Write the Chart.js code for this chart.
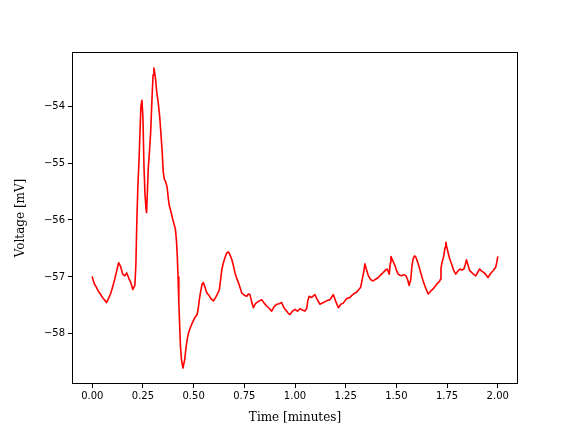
<!DOCTYPE html>
<html><head><meta charset="utf-8">
<script src="https://cdn.jsdelivr.net/npm/chart.js@4/dist/chart.umd.min.js"></script>
<style>html,body{margin:0;padding:0;background:#fff;}canvas{display:block;}</style>
</head><body>
<canvas id="c" width="576" height="432"></canvas>
<script>
const timeMinutes = [0.000,0.010,0.020,0.030,0.040,0.050,0.060,0.070,0.080,0.090,0.100,0.110,0.120,0.130,0.140,0.150,0.160,0.170,0.180,0.190,0.200,0.210,0.215,0.220,0.225,0.230,0.235,0.240,0.245,0.250,0.255,0.260,0.265,0.268,0.272,0.276,0.282,0.288,0.292,0.296,0.300,0.304,0.308,0.312,0.318,0.325,0.332,0.338,0.345,0.350,0.355,0.362,0.369,0.375,0.380,0.388,0.397,0.404,0.410,0.415,0.419,0.423,0.427,0.431,0.435,0.440,0.447,0.452,0.456,0.462,0.468,0.475,0.485,0.493,0.505,0.517,0.523,0.528,0.535,0.542,0.548,0.556,0.565,0.575,0.585,0.598,0.610,0.620,0.627,0.633,0.639,0.647,0.655,0.663,0.672,0.680,0.688,0.696,0.704,0.712,0.721,0.730,0.737,0.750,0.762,0.770,0.778,0.787,0.795,0.803,0.811,0.824,0.836,0.848,0.860,0.872,0.885,0.897,0.910,0.922,0.934,0.947,0.959,0.967,0.975,0.988,1.000,1.012,1.025,1.037,1.049,1.058,1.063,1.070,1.082,1.098,1.110,1.123,1.140,1.156,1.172,1.189,1.200,1.214,1.226,1.238,1.255,1.271,1.288,1.304,1.315,1.324,1.331,1.337,1.345,1.353,1.362,1.374,1.386,1.398,1.411,1.424,1.436,1.446,1.455,1.465,1.470,1.473,1.483,1.493,1.500,1.509,1.518,1.526,1.537,1.547,1.556,1.563,1.571,1.577,1.583,1.590,1.596,1.605,1.613,1.622,1.632,1.645,1.657,1.669,1.681,1.694,1.706,1.713,1.717,1.720,1.725,1.734,1.740,1.744,1.749,1.755,1.763,1.772,1.782,1.793,1.803,1.813,1.823,1.833,1.840,1.846,1.854,1.862,1.877,1.892,1.901,1.911,1.921,1.931,1.942,1.952,1.965,1.977,1.990,1.995,2.000];
const voltageMv = [-57.00,-57.12,-57.18,-57.25,-57.30,-57.36,-57.40,-57.45,-57.38,-57.30,-57.18,-57.05,-56.90,-56.75,-56.82,-56.95,-56.98,-56.93,-57.02,-57.10,-57.22,-57.15,-56.80,-56.00,-55.40,-55.00,-54.50,-54.00,-53.90,-54.20,-55.05,-55.55,-55.80,-55.87,-55.50,-55.10,-54.80,-54.46,-54.10,-53.75,-53.45,-53.33,-53.42,-53.52,-53.75,-53.93,-54.16,-54.45,-54.81,-55.15,-55.28,-55.33,-55.42,-55.62,-55.75,-55.85,-55.99,-56.08,-56.16,-56.35,-56.60,-57.00,-57.45,-57.85,-58.22,-58.45,-58.60,-58.52,-58.45,-58.25,-58.10,-57.98,-57.88,-57.81,-57.72,-57.66,-57.55,-57.40,-57.25,-57.12,-57.10,-57.18,-57.28,-57.32,-57.38,-57.42,-57.35,-57.28,-57.22,-57.05,-56.87,-56.75,-56.66,-56.58,-56.56,-56.62,-56.69,-56.80,-56.93,-57.02,-57.10,-57.20,-57.28,-57.32,-57.34,-57.30,-57.31,-57.45,-57.54,-57.48,-57.45,-57.42,-57.40,-57.46,-57.51,-57.55,-57.60,-57.52,-57.48,-57.47,-57.45,-57.55,-57.60,-57.64,-57.66,-57.60,-57.57,-57.60,-57.56,-57.58,-57.60,-57.55,-57.42,-57.34,-57.36,-57.31,-57.40,-57.48,-57.45,-57.42,-57.40,-57.31,-57.42,-57.54,-57.48,-57.46,-57.38,-57.36,-57.30,-57.27,-57.22,-57.18,-57.05,-56.95,-56.77,-56.88,-56.98,-57.05,-57.07,-57.04,-57.01,-56.96,-56.92,-56.88,-56.86,-56.95,-56.75,-56.64,-56.72,-56.80,-56.88,-56.95,-56.97,-56.98,-56.96,-56.98,-57.05,-57.15,-57.05,-56.80,-56.68,-56.63,-56.65,-56.74,-56.83,-56.95,-57.07,-57.20,-57.30,-57.25,-57.21,-57.15,-57.10,-57.08,-57.04,-56.85,-56.75,-56.63,-56.48,-56.39,-56.48,-56.57,-56.68,-56.77,-56.88,-56.95,-56.90,-56.86,-56.88,-56.86,-56.78,-56.70,-56.80,-56.89,-56.94,-56.98,-56.92,-56.86,-56.90,-56.92,-56.96,-57.01,-56.94,-56.89,-56.83,-56.75,-56.65];
const xTickValues = [0,0.25,0.5,0.75,1.0,1.25,1.5,1.75,2.0];
const yTickValues = [-58,-57,-56,-55,-54];
const xLabel = 'Time [minutes]';
const yLabel = 'Voltage [mV]';

const points = timeMinutes.map((t,i)=>({x:t,y:voltageMv[i]}));
const tickFont = {family:'DejaVu Sans', size:10};
const titleFont = {family:'DejaVu Serif', size:12};

const frame = {
  id:'frame',
  afterDraw(chart){
    const a = chart.chartArea, ctx = chart.ctx;
    ctx.save();
    ctx.strokeStyle = '#000'; ctx.lineWidth = 1;
    ctx.strokeRect(Math.round(a.left)+0.5, Math.round(a.top)+0.5, Math.round(a.right-a.left)-1, Math.round(a.bottom-a.top)-1);
    ctx.restore();
  }
};

new Chart(document.getElementById('c'), {
  type:'line',
  data:{datasets:[{data:points, borderColor:'#ff0000', borderWidth:1.6, borderJoinStyle:'round', borderCapStyle:'round', pointRadius:0, tension:0, fill:false}]},
  options:{
    responsive:false, animation:false, devicePixelRatio:1,
    layout:{padding:{left:14,right:58,top:52,bottom:7}},
    plugins:{legend:{display:false}, tooltip:{enabled:false}},
    scales:{
      x:{type:'linear', min:-0.1, max:2.1,
        afterBuildTicks(s){ s.ticks = xTickValues.map(v=>({value:v})); },
        afterFit(s){ s.height = 41; },
        grid:{drawOnChartArea:false, drawTicks:true, tickLength:4, color:'#000'},
        border:{display:false},
        ticks:{font:tickFont, color:'#000', padding:2, maxRotation:0, autoSkip:false,
          callback:v=>v.toFixed(2).replace('-','\u2212')},
        title:{display:true, text:xLabel, font:titleFont, color:'#000', padding:{top:0,bottom:0}}
      },
      y:{type:'linear', min:-58.88, max:-53.05,
        afterBuildTicks(s){ s.ticks = yTickValues.map(v=>({value:v})); },
        afterFit(s){ s.width = 58; },
        grid:{drawOnChartArea:false, drawTicks:true, tickLength:4, color:'#000'},
        border:{display:false},
        ticks:{font:tickFont, color:'#000', padding:3, autoSkip:false,
          callback:v=>String(Math.round(v)).replace('-','\u2212')},
        title:{display:true, text:yLabel, font:titleFont, color:'#000', padding:{top:0,bottom:0}}
      }
    }
  },
  plugins:[frame]
});
</script>
</body></html>
